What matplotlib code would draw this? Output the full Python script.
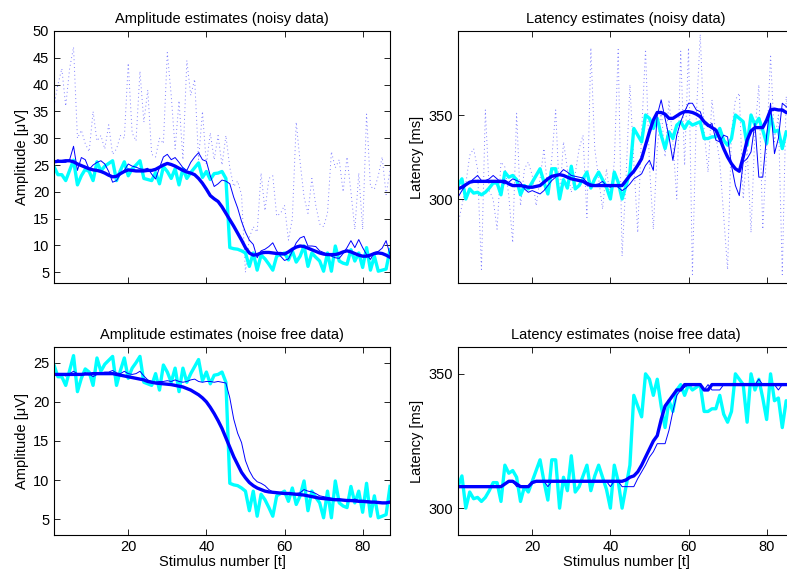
import numpy as np
import matplotlib.pyplot as plt

plt.rcParams['font.family'] = ['Liberation Sans', 'DejaVu Sans']

stim = np.arange(1, 88)

# amplitude (uV), noisy data
amp_noisy_raw = [36, 40, 43, 36, 43, 47, 30, 31.5, 29, 27.5, 35, 29.5, 30.5, 28, 32.5, 27, 28, 30.5, 30, 44,
                 31, 29.5, 42.5, 33, 39, 27, 26.5, 30, 29, 46, 38, 28, 37, 26, 44.5, 38, 41, 26, 35, 25,
                 31, 26, 30.5, 25, 30.5, 24.5, 21, 22, 19.5, 5, 11.5, 13.5, 12.5, 23.5, 16.5, 22.5, 23, 15.5, 16, 17.5,
                 11, 15, 33, 25.5, 19, 16, 22.5, 17.5, 14, 13.5, 16, 27.5, 24.5, 26, 20, 26.5, 20, 13, 23.5, 13,
                 34.5, 21, 20.5, 23, 26.5, 19.5, 24]
amp_noisy_est = [25.5, 26, 25.5, 25.5, 26, 28.5, 24, 26.4, 26, 24.2, 25, 25.5, 25.8, 25.2, 23.8, 21.8, 22.1, 23.3, 24, 25.2,
                 24.8, 24.6, 24.3, 24.2, 24.4, 23.3, 22.4, 24.5, 26.5, 27, 26, 26.4, 25.5, 24.5, 24, 25.5, 26.5, 27.3, 26, 25.7,
                 23, 21, 21.5, 22.2, 22, 21.5, 19, 17, 14.5, 12.5, 11, 10.2, 7.7, 9, 9.3, 9.8, 10.5, 9, 8, 7.2,
                 7.5, 8.9, 10.5, 11.4, 11.7, 9.9, 9.9, 9.8, 9.0, 8.7, 8.3, 8.0, 7.7, 7.6, 8.5, 9.6, 10.9, 9.6, 11.1, 9.6,
                 8.3, 7.4, 8.7, 8.9, 9.5, 10.9, 8.3]
amp_noisy_smooth = [25.6, 25.7, 25.7, 25.8, 25.8, 25.6, 25.2, 24.9, 24.6, 24.3, 24.1, 24.0, 23.8, 23.5, 23.1, 22.8, 22.9, 23.4, 23.8, 24.1,
                    24.0, 23.9, 23.9, 23.9, 24.0, 24.0, 24.2, 24.6, 25.0, 25.3, 25.1, 24.8, 24.4, 24.0, 23.7, 23.5, 23.2, 22.5, 21.6, 20.5,
                    19.3, 18.7, 18.2, 17.2, 16.0, 14.8, 13.6, 12.3, 11.0, 9.6, 8.6, 8.2, 8.3, 8.6, 8.7, 8.7, 8.6, 8.5, 8.5, 8.4,
                    8.8, 9.3, 9.7, 9.9, 9.8, 9.5, 9.2, 8.9, 8.6, 8.4, 8.3, 8.3, 8.3, 8.5, 8.8, 9.0, 8.8, 8.5, 8.2, 8.0,
                    8.0, 8.2, 8.5, 8.6, 8.5, 8.2, 7.8]

# amplitude (uV), noise free data
amp_true = [24.7, 23.2, 23.2, 22.1, 24.0, 25.9, 21.3, 23.0, 24.2, 23.8, 22.1, 25.6, 23.9, 24.8, 25.3, 25.8, 22.1, 24.0, 25.6, 23.0,
            24.3, 25.0, 25.8, 22.5, 22.3, 22.1, 23.6, 21.5, 24.7, 23.8, 22.5, 24.3, 21.3, 24.3, 22.5, 23.6, 24.5, 25.4, 22.7, 23.8,
            22.3, 23.4, 23.5, 23.8, 22.5, 9.6, 9.4, 9.3, 9.0, 8.6, 6.1, 8.6, 5.4, 8.2, 7.5, 6.5, 5.4, 8.0, 8.3, 8.6,
            7.3, 9.0, 6.9, 8.0, 9.9, 6.1, 8.6, 7.8, 7.1, 5.2, 8.6, 5.2, 9.9, 7.1, 6.7, 6.5, 9.2, 7.1, 8.6, 5.9,
            9.6, 5.4, 8.0, 5.2, 5.4, 5.6, 9.2]
amp_clean_est = [23.5, 23.4, 23.5, 23.3, 23.6, 23.9, 23.6, 23.5, 23.7, 23.6, 23.2, 23.5, 23.7, 23.8, 23.8, 24.0, 23.7, 23.6, 23.9, 23.6,
                 23.5, 23.6, 23.9, 23.3, 22.8, 22.6, 22.5, 22.6, 22.6, 22.7, 22.6, 22.8, 22.6, 22.5, 22.6, 22.8, 22.9, 22.6, 22.5, 22.6,
                 22.6, 22.5, 22.6, 22.5, 22.4, 20.5, 17.8, 16.0, 14.8, 12.5, 11.2, 10.3, 9.8, 9.6, 9.3, 8.8, 8.5, 8.4, 8.4, 8.4,
                 8.4, 8.3, 8.3, 8.4, 8.8, 8.6, 8.5, 8.3, 8.0, 7.9, 7.8, 7.7, 7.6, 7.6, 7.5, 7.5, 7.4, 7.6, 7.4, 7.3,
                 7.4, 7.3, 7.2, 7.2, 7.1, 7.1, 7.2]
amp_clean_smooth = [23.5, 23.5, 23.5, 23.5, 23.5, 23.5, 23.5, 23.5, 23.55, 23.55, 23.6, 23.6, 23.6, 23.6, 23.6, 23.6, 23.5, 23.4, 23.3, 23.2,
                    23.1, 23.0, 22.9, 22.8, 22.6, 22.5, 22.4, 22.35, 22.3, 22.25, 22.2, 22.1, 22.0, 21.9, 21.7, 21.5, 21.2, 20.9, 20.5, 20.0,
                    19.3, 18.5, 17.6, 16.6, 15.4, 14.2, 13.0, 12.0, 11.0, 10.3, 9.7, 9.3, 9.0, 8.8, 8.6, 8.5, 8.45, 8.4, 8.35, 8.3,
                    8.3, 8.25, 8.2, 8.15, 8.1, 8.0, 7.9, 7.8, 7.7, 7.65, 7.6, 7.55, 7.5, 7.5, 7.45, 7.4, 7.4, 7.35, 7.3, 7.3,
                    7.25, 7.2, 7.2, 7.15, 7.1, 7.1, 7.2]

# latency (ms), noisy data
lat_noisy_raw = [285, 296, 309, 326, 330, 318, 258, 353, 305, 300, 282, 322, 319, 302, 274, 351, 296, 318, 322, 314,
                 296, 312, 330, 304, 324, 353, 300, 334, 318, 304, 315, 330, 338, 289, 390, 330, 312, 294, 318, 300,
                 322, 389, 266, 312, 368, 322, 280, 340, 389, 320, 282, 330, 353, 325, 359, 334, 300, 388, 320, 390,
                 255, 350, 398, 340, 316, 359, 338, 322, 290, 258, 340, 359, 363, 300, 330, 280, 340, 368, 282, 330,
                 386, 334, 350, 255, 361, 340, 350]
lat_noisy_est = [301, 305, 308, 310, 312, 314, 311, 311, 312, 314, 312, 310, 309, 310, 312, 311, 310, 306, 304, 305,
                 304, 303, 305, 308, 311, 313, 315, 317.5, 316, 314, 313.5, 313, 312.5, 310, 309, 308.5, 309, 310.5, 308, 307,
                 308.5, 307, 305, 306.5, 309, 312, 313.5, 315, 320, 323, 317, 350, 359, 348, 337, 323, 338, 346, 352, 357,
                 357, 353, 352, 345, 343, 345, 335, 334, 338, 337, 320, 308, 302, 322, 324, 328, 345, 313, 313, 338,
                 357, 327, 336, 357, 355, 353, 354]
lat_noisy_smooth = [306, 307, 308.5, 310, 310.5, 310.5, 310.5, 310.5, 310.5, 310.5, 310.5, 310.5, 310.5, 309, 308, 308, 308, 307.5, 307, 307,
                    307.5, 308, 310, 312, 313.5, 314, 314.5, 314, 313, 312, 311.5, 311, 310.5, 309, 308, 308, 308, 308, 308, 308,
                    308, 308, 308, 311, 314, 316.5, 320, 324, 332, 340, 347, 351.5, 351.5, 350.5, 348, 348, 349.5, 351, 352, 352,
                    351.5, 350.5, 349, 346, 344, 342.5, 341, 336, 330, 325, 321, 318, 316.5, 325, 335, 340.5, 342.5, 342.5, 342.5, 347,
                    353, 353.5, 353, 353, 351.5, 351, 351]

# latency (ms), noise free data
lat_true = [308, 312, 300, 306, 303.5, 304, 302.5, 304, 306.5, 309.5, 309.5, 302.5, 316, 313, 314, 311.5, 302.5, 308, 306, 310,
            314, 318, 310, 303, 318, 318, 300, 311.5, 306.5, 319.5, 306, 308, 312, 316, 306.5, 312, 316, 311.5, 307, 300,
            316, 310, 300, 308, 316, 342, 338, 334, 350, 348, 342, 348, 338, 330, 340, 336, 344, 346, 342, 346,
            344, 345, 346, 336, 336, 337, 337, 342, 335, 332, 336, 350, 348, 346, 332, 350, 344, 348, 341, 333,
            350, 340, 341, 330, 340, 338, 342]
lat_clean_est = [308, 308, 308, 308, 308, 308, 308, 308, 308, 308, 308, 308, 309, 310, 310, 308, 308, 308, 308, 310,
                 310, 310, 310, 308, 310, 310, 310, 310, 310, 310, 310, 310, 310, 310, 310, 310, 310, 310, 310, 308,
                 310, 310, 308, 308, 308, 308, 311, 313.5, 316, 319, 321, 324, 324, 324, 329, 336, 342, 344, 345, 346,
                 346, 346, 346, 344, 346, 344, 344, 344, 346, 346, 346, 346, 346, 346, 346, 346, 346, 348, 346, 346,
                 346, 346, 344, 346, 346, 346, 346]
lat_clean_smooth = [308, 308, 308, 308, 308, 308, 308, 308, 308, 308, 308, 308, 309, 310, 310, 309, 308, 308, 308, 309.5,
                    310, 310, 310, 310, 310, 310, 310, 310, 310, 310, 310, 310, 310, 310, 310, 310, 310, 310, 310, 310,
                    310, 310, 310, 310.5, 311.5, 312, 313.5, 316, 319, 322, 325, 327, 333, 338, 340, 342, 344, 344, 346, 346,
                    346, 346, 346, 344, 344, 346, 346, 346, 346, 346, 346, 346, 346, 346, 346, 346, 346, 346, 346, 346,
                    346, 346, 346, 346, 346, 346, 346]

W, H = 787, 578
fig = plt.figure(figsize=(W / 100, H / 100), dpi=100)


def make_axes(left, top, bottom):
    # pixel box -> figure fraction (width the same for every panel)
    return fig.add_axes([left / W, 1 - bottom / H, 336 / W, (bottom - top) / H])


def style(ax, ylim, yticks, title, ylabel, bottom_row):
    ax.set_xlim(1, 87)
    ax.set_ylim(*ylim)
    ax.set_xticks([20, 40, 60, 80])
    ax.set_yticks(yticks)
    ax.tick_params(direction='in', top=True, right=True, length=4, width=0.6,
                   labelsize=10.5, colors='black')
    for s in ax.spines.values():
        s.set_linewidth(0.8)
    ax.set_title(title, fontsize=10.5, pad=6)
    ax.set_ylabel(ylabel, fontsize=10.5, labelpad=3)
    if bottom_row:
        ax.set_xlabel('Stimulus number [t]', fontsize=10.5, labelpad=1)
    else:
        ax.set_xticklabels([])


def draw(ax, true, est, smooth, raw=None):
    if raw is not None:
        ax.plot(stim, raw, color='b', lw=0.7, ls=(0, (1, 3)), alpha=0.5)
    ax.plot(stim, true, color='cyan', lw=2.4)
    ax.plot(stim, est, color='b', lw=0.7)
    ax.plot(stim, smooth, color='b', lw=2.4)


ax1 = make_axes(54, 31, 283)
draw(ax1, amp_true, amp_noisy_est, amp_noisy_smooth, amp_noisy_raw)
style(ax1, (3, 50), range(5, 51, 5), 'Amplitude estimates (noisy data)', 'Amplitude [\u03bcV]', False)

ax2 = make_axes(458, 31, 283)
draw(ax2, lat_true, lat_noisy_est, lat_noisy_smooth, lat_noisy_raw)
style(ax2, (250, 400), [300, 350], 'Latency estimates (noisy data)', 'Latency [ms]', False)

ax3 = make_axes(54, 347, 535)
draw(ax3, amp_true, amp_clean_est, amp_clean_smooth)
style(ax3, (3, 27), range(5, 26, 5), 'Amplitude estimates (noise free data)', 'Amplitude [\u03bcV]', True)

ax4 = make_axes(458, 347, 535)
draw(ax4, lat_true, lat_clean_est, lat_clean_smooth)
style(ax4, (290, 360), [300, 350], 'Latency estimates (noise free data)', 'Latency [ms]', True)

fig.savefig('out.png', dpi=100)
